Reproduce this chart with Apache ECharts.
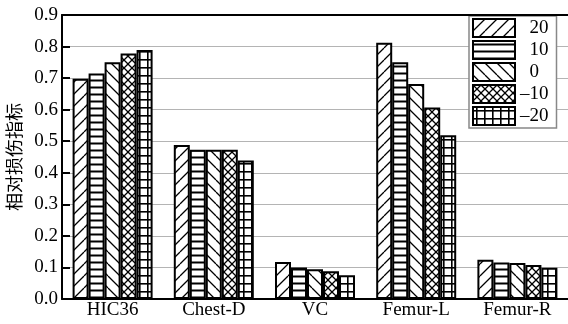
<!DOCTYPE html>
<html>
<head>
<meta charset="utf-8">
<script src="https://cdn.jsdelivr.net/npm/echarts@6/dist/echarts.min.js"></script>
<style>html,body{margin:0;padding:0;background:#fff;}#c{width:568px;height:324px;}</style>
</head>
<body>
<div id="c"></div>
<script>
const categories = ['HIC36', 'Chest-D', 'VC', 'Femur-L', 'Femur-R'];
const seriesNames = ['20', '10', '0', '–10', '–20'];
const s20  = [0.698, 0.488, 0.117, 0.812, 0.124];
const s10  = [0.715, 0.473, 0.100, 0.750, 0.116];
const s0   = [0.750, 0.473, 0.094, 0.681, 0.114];
const sm10 = [0.778, 0.473, 0.088, 0.607, 0.108];
const sm20 = [0.789, 0.439, 0.075, 0.519, 0.099];
const yTicks = [0, 0.1, 0.2, 0.3, 0.4, 0.5, 0.6, 0.7, 0.8, 0.9];

function tile(w, h, draw) {
  const c = document.createElement('canvas');
  c.width = w; c.height = h;
  const ctx = c.getContext('2d');
  ctx.fillStyle = '#fff'; ctx.fillRect(0, 0, w, h);
  ctx.strokeStyle = '#000'; ctx.fillStyle = '#000';
  draw(ctx, w, h);
  return { image: c, repeat: 'repeat' };
}
function slash(ctx, s) {
  ctx.lineWidth = 1.3; ctx.beginPath();
  for (let k = -1; k <= 1; k++) { ctx.moveTo(k * s, s); ctx.lineTo(k * s + s, 0); }
  ctx.stroke();
}
function back(ctx, s) {
  ctx.lineWidth = 1.3; ctx.beginPath();
  for (let k = -1; k <= 1; k++) { ctx.moveTo(k * s, 0); ctx.lineTo(k * s + s, s); }
  ctx.stroke();
}
const patterns = [
  tile(12, 12, (ctx) => slash(ctx, 12)),
  tile(7, 7, (ctx) => { ctx.fillRect(0, 2.5, 7, 2); }),
  tile(12, 12, (ctx) => back(ctx, 12)),
  tile(8, 8, (ctx) => { slash(ctx, 8); back(ctx, 8); }),
  tile(8, 8, (ctx) => { ctx.fillRect(0, 3, 8, 1.6); ctx.fillRect(3, 0, 1.6, 8); })
];
const values = [s20, s10, s0, sm10, sm20];

const serif = '"Liberation Serif", "Times New Roman", serif';
const chart = echarts.init(document.getElementById('c'), null, { renderer: 'canvas' });
chart.setOption({
  backgroundColor: '#fff',
  animation: false,
  grid: { left: 62, right: 0, top: 15, bottom: 25, containLabel: false, outerBoundsMode: 'none' },
  legend: {
    orient: 'vertical',
    left: 469, top: 16,
    padding: [2, 8, 2, 3],
    itemWidth: 42, itemHeight: 18, itemGap: 2,
    backgroundColor: '#fff',
    borderColor: '#888', borderWidth: 1.5,
    icon: 'rect',
    itemStyle: { borderColor: '#000', borderWidth: 2 },
    formatter: (n) => (n.charAt(0) === '–' ? n : '\u2002' + n),
    textStyle: { fontFamily: serif, fontSize: 19, lineHeight: 16, color: '#000' },
    data: seriesNames
  },
  xAxis: [{
    type: 'category',
    data: categories,
    axisLine: { lineStyle: { color: '#000', width: 2 } },
    axisTick: { show: false },
    axisLabel: { fontFamily: serif, fontSize: 19, color: '#000', margin: 2 }
  }, {
    type: 'category', position: 'top', data: categories, z: 5,
    axisLine: { lineStyle: { color: '#000', width: 2 } },
    axisTick: { show: false }, axisLabel: { show: false }, splitLine: { show: false }
  }],
  yAxis: {
    type: 'value', min: 0, max: 0.9, interval: 0.1,
    name: '相对损伤指标',
    nameLocation: 'middle', nameGap: 37, nameRotate: 90,
    nameTextStyle: { fontFamily: '"Noto Sans CJK SC", sans-serif', fontSize: 18, color: '#000' },
    axisLine: { show: true, lineStyle: { color: '#000', width: 2 } },
    axisTick: { show: true, inside: true, length: 8, lineStyle: { color: '#000', width: 2 } },
    splitLine: { show: true, lineStyle: { color: '#b4b4b4', width: 1 } },
    axisLabel: { fontFamily: serif, fontSize: 19, color: '#000', margin: 4,
      formatter: (v) => v.toFixed(1) }
  },
  series: seriesNames.map((n, i) => ({
    name: n, type: 'bar', data: values[i],
    barWidth: 16, barGap: '0%',
    itemStyle: { color: patterns[i], borderColor: '#000', borderWidth: 2 }
  }))
});
</script>
</body>
</html>
